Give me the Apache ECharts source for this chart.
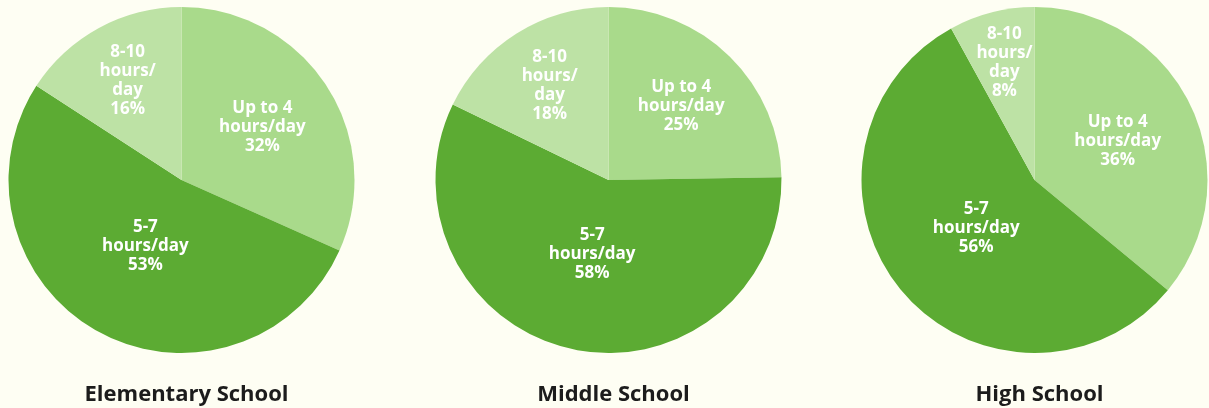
<!DOCTYPE html>
<html>
<head>
<meta charset="utf-8">
<script src="https://cdn.jsdelivr.net/npm/echarts@6/dist/echarts.min.js"></script>
<style>
html,body{margin:0;padding:0;background:#fefef3;}
#chart{width:1209px;height:408px;}
</style>
</head>
<body>
<div id="chart"></div>
<script>
const categories = ["Up to 4\nhours/day", "5-7\nhours/day", "8-10\nhours/\nday"];
const schools = ["Elementary School", "Middle School", "High School"];
const elementary = [32, 53, 16];
const middle = [25, 58, 18];
const high = [36, 56, 8];
const colors = ["#a9da8b", "#5cab33", "#bde2a5"];

const allValues = [elementary, middle, high];
const centersX = [181.5, 608.5, 1034.5];
const R = 173;
const chart = echarts.init(document.getElementById('chart'));

// small slices get their label further out, large slices nearer the centre
function labelOffsets(vals) {
  const total = vals.reduce((a, b) => a + b, 0);
  let cum = 0;
  return vals.map(v => {
    const frac = v / total;
    const mid = cum + frac / 2;
    cum += frac;
    const d = R * Math.max(0.42, 0.73 - 0.6 * frac);
    const theta = Math.PI / 2 - mid * 2 * Math.PI;
    const base = R / 2;
    return [(d - base) * Math.cos(theta), -(d - base) * Math.sin(theta)];
  });
}

const series = allValues.map((vals, i) => {
  const offs = labelOffsets(vals);
  return {
    type: 'pie',
    center: [centersX[i], 180],
    radius: [0, R],
    startAngle: 90,
    clockwise: true,
    silent: true,
    animation: false,
    labelLine: {show: false},
    itemStyle: {borderWidth: 0},
    label: {
      show: true,
      position: 'inside',
      color: '#ffffff',
      fontFamily: 'Open Sans',
      fontWeight: 'bold',
      fontSize: 17,
      lineHeight: 19,
      formatter: p => p.name + '\n' + p.value + '%'
    },
    data: categories.map((c, j) => ({
      name: c,
      value: vals[j],
      itemStyle: {color: colors[j]},
      label: {offset: offs[j]}
    }))
  };
});

const titles = schools.map((s, i) => ({
  text: s,
  left: centersX[i],
  top: 379,
  textAlign: 'center',
  textStyle: {fontFamily: 'Open Sans', fontWeight: 'bold', fontSize: 22, color: '#1c1c1c'}
}));

chart.setOption({
  backgroundColor: '#fefef3',
  title: titles,
  series: series
});
</script>
</body>
</html>
